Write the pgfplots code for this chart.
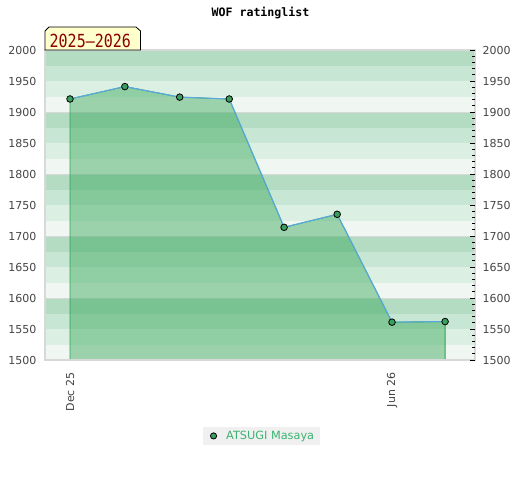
\documentclass[border=0pt]{standalone}
\usepackage{fontspec}
\setmainfont{DejaVu Sans}
\setmonofont{DejaVu Sans Mono}
\usepackage{pgfplots}
\pgfplotsset{compat=1.18}
\definecolor{bandA}{RGB}{179,220,195}
\definecolor{bandB}{RGB}{200,230,212}
\definecolor{bandC}{RGB}{220,239,227}
\definecolor{bandD}{RGB}{240,247,242}
\definecolor{sep}{RGB}{216,216,216}
\definecolor{fillgreen}{RGB}{45,163,82}
\definecolor{edgegreen}{RGB}{46,164,79}
\definecolor{lineblue}{RGB}{90,168,224}
\definecolor{markgreen}{RGB}{58,158,92}
\definecolor{legtext}{RGB}{60,179,113}
\definecolor{ticktext}{RGB}{68,68,68}
\definecolor{labelred}{RGB}{139,0,0}
\definecolor{labelfill}{RGB}{255,255,204}
\pgfplotstableread{
x y
0 1921
31 1941
62 1924
90 1921
121 1714
151 1735
182 1561
212 1562
}\ratings
\begin{document}
\begin{tikzpicture}[x=1pt,y=1pt]
\path[use as bounding box] (0,0) rectangle (520,480);
\node[font=\ttfamily\bfseries\fontsize{11.6}{13}\selectfont] at (260.5,467) {WOF ratinglist};
\begin{axis}[
  at={(45pt,120pt)}, anchor=south west, scale only axis,
  width=430pt, height=310pt,
  xmin=-14.13, xmax=228.9, ymin=1500, ymax=2000,
  axis line style={draw=sep, line width=1.2pt},
  ytick={1500,1550,...,2000},
  major tick length=0pt,
  yticklabel shift=5pt,
  xtick={0,182}, xticklabels={Dec 25, Jun 26},
  xticklabel style={rotate=90, anchor=east},
  xticklabel shift=9pt,
  tick label style={font=\fontsize{11}{13}\selectfont, text=ticktext},
  /pgf/number format/assume math mode=true,
  /pgf/number format/1000 sep={},
  legend style={at={(axis description cs:0.5035,-0.245)}, anchor=center,
    fill=gray!12, draw=none, font=\fontsize{11.3}{13}\selectfont, text=legtext,
    inner xsep=4pt, inner ysep=2.5pt},
  legend image code/.code={\path[draw=none,fill=none] (-6.7pt,0pt) rectangle (10.6pt,0pt);
    \node[circle, fill=markgreen, draw=black, line width=0.8pt, inner sep=0pt, minimum size=6.2pt] at (0pt,0pt) {};},
  axis on top,
]
\pgfplotsinvokeforeach{1500,1600,1700,1800,1900}{
  \fill[bandD] (axis cs:-20,#1) rectangle (axis cs:240,#1+25);
  \fill[bandC] (axis cs:-20,#1+25) rectangle (axis cs:240,#1+50);
  \fill[bandB] (axis cs:-20,#1+50) rectangle (axis cs:240,#1+75);
  \fill[bandA] (axis cs:-20,#1+75) rectangle (axis cs:240,#1+100);
  \draw[sep, line width=1.2pt] (axis cs:-20,#1+100) -- (axis cs:240,#1+100);
}
\addplot[draw=edgegreen, line width=0.9pt, fill=fillgreen, fill opacity=0.43, forget plot] table[x=x,y=y]{\ratings} \closedcycle;
\addplot[color=lineblue, line width=1.1pt, mark=*, mark size=3.3pt, mark options={fill=markgreen, draw=black, line width=0.8pt}] table[x=x,y=y]{\ratings};
\addlegendentry{ATSUGI Masaya}
\end{axis}
\begin{axis}[
  at={(45pt,120pt)}, anchor=south west, scale only axis,
  width=430pt, height=310pt,
  xmin=-14.13, xmax=228.9, ymin=1500, ymax=2000,
  hide x axis,
  axis y line*=right,
  y axis line style={draw=none},
  ytick={1500,1550,...,2000},
  minor y tick num=4,
  tick align=inside,
  major tick length=5pt, minor tick length=3pt,
  tick style={black, line width=0.8pt},
  yticklabel shift=4pt,
  tick label style={font=\fontsize{11}{13}\selectfont, text=ticktext},
  /pgf/number format/assume math mode=true,
  /pgf/number format/1000 sep={},
]
\end{axis}
\filldraw[fill=labelfill, draw=black, line width=0.8pt]
  (45,430) -- (45,449) -- (49,453) -- (136,453) -- (140.5,449) -- (140.5,430) -- cycle;
\node[font=\ttfamily\fontsize{15}{17}\selectfont, text=labelred, inner sep=0pt] at (90.3,438.7) {\scalebox{1}[1.2]{2025–2026}};
\end{tikzpicture}
\end{document}
